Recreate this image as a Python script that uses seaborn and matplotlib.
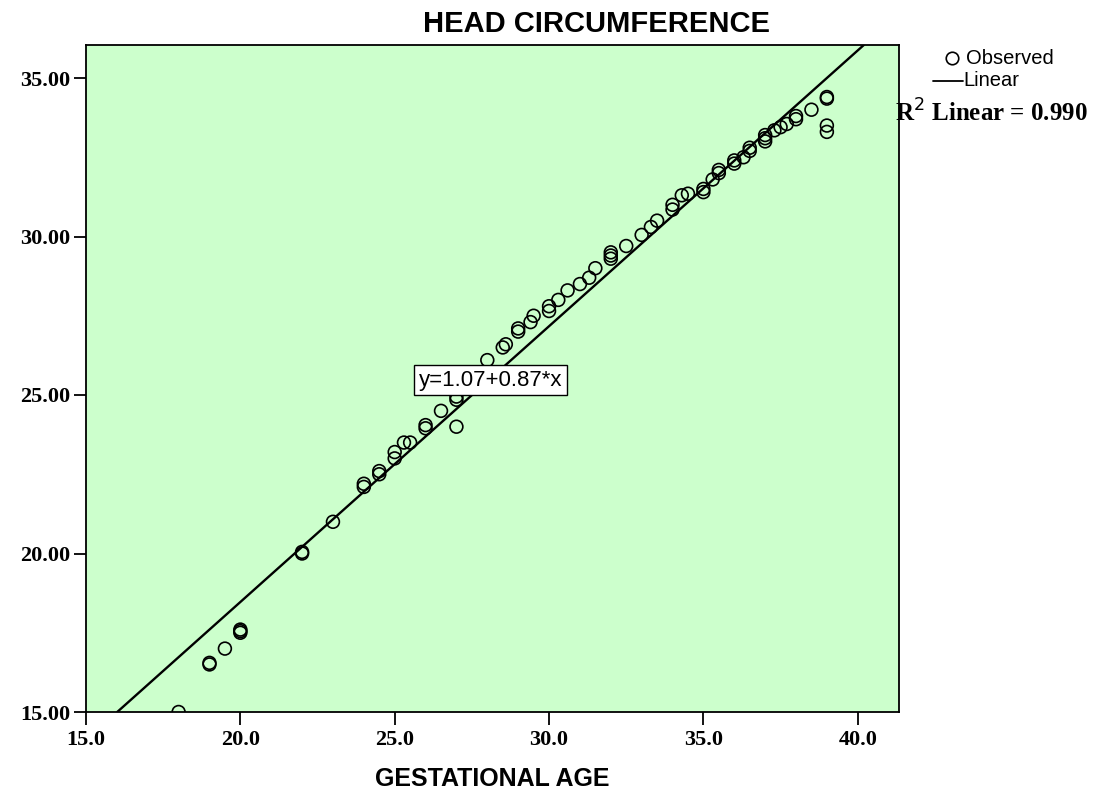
import matplotlib
matplotlib.use("Agg")
import matplotlib.pyplot as plt
import seaborn as sns
import pandas as pd

# ---- data ----
gest_age = [18, 19, 19, 19.5, 20, 20, 20, 22, 22, 23,
            24, 24, 24.5, 24.5, 25, 25, 25.3, 25.5, 26, 26,
            26.5, 27, 27, 27, 28, 28.5, 28.6, 29, 29, 29.4,
            29.5, 30, 30, 30.3, 30.6, 31, 31.3, 31.5, 32, 32,
            32, 32.5, 33, 33.3, 33.5, 34, 34, 34.3, 34.5, 35,
            35, 35.3, 35.5, 35.5, 36, 36, 36.3, 36.5, 36.5, 37,
            37, 37, 37.3, 37.5, 37.7, 38, 38, 38.5, 39, 39,
            39, 39]
head_circ = [15.0, 16.5, 16.55, 17.0, 17.5, 17.6, 17.55, 20.0, 20.05, 21.0,
             22.1, 22.2, 22.5, 22.6, 23.0, 23.2, 23.5, 23.5, 23.95, 24.05,
             24.5, 24.0, 24.85, 24.95, 26.1, 26.5, 26.6, 27.0, 27.1, 27.3,
             27.5, 27.65, 27.8, 28.0, 28.3, 28.5, 28.7, 29.0, 29.3, 29.4,
             29.5, 29.7, 30.05, 30.3, 30.5, 30.85, 31.0, 31.3, 31.35, 31.4,
             31.5, 31.8, 32.0, 32.1, 32.3, 32.4, 32.5, 32.7, 32.8, 33.0,
             33.1, 33.2, 33.35, 33.45, 33.55, 33.7, 33.8, 34.0, 34.35, 34.4,
             33.5, 33.3]
fit_intercept = 1.07
fit_slope = 0.87
r_squared = 0.990
x_ticks = [15.0, 20.0, 25.0, 30.0, 35.0, 40.0]
y_ticks = [15.0, 20.0, 25.0, 30.0, 35.0]

df = pd.DataFrame({"GESTATIONAL AGE": gest_age, "HEAD CIRCUMFERENCE": head_circ})

sns.set_style("white")
plt.rcParams["font.family"] = ["Liberation Sans", "DejaVu Sans"]
plt.rcParams["text.color"] = "black"
plt.rcParams["axes.labelcolor"] = "black"
plt.rcParams["xtick.color"] = "black"
plt.rcParams["ytick.color"] = "black"

fig = plt.figure(figsize=(10.93, 7.89), dpi=100)
ax = fig.add_axes([86 / 1093, 77 / 789, (899 - 86) / 1093, (712 - 45) / 789])
ax.set_facecolor("#CCFFCC")

sns.scatterplot(data=df, x="GESTATIONAL AGE", y="HEAD CIRCUMFERENCE", ax=ax,
                marker="o", s=85, facecolors="none", edgecolor="black",
                linewidth=1.2, legend=False)
ax.axline((0, fit_intercept), slope=fit_slope, color="black", lw=1.7)

ax.set_xlim(15.0, 15.0 + (899 - 86) / 30.87)
ax.set_ylim(15.0, 35.0 + (78 - 45) / 31.7)
ax.set_xticks(x_ticks)
ax.set_yticks(y_ticks)
ax.set_xticklabels([f"{v:.1f}" for v in x_ticks])
ax.set_yticklabels([f"{v:.2f}" for v in y_ticks])
for lab in ax.get_xticklabels() + ax.get_yticklabels():
    lab.set_fontfamily("Liberation Serif")
    lab.set_fontweight("bold")
    lab.set_fontsize(16)
    lab.set_color("black")
ax.tick_params(axis="both", direction="out", length=9, width=1.3, color="black",
               left=True, bottom=True, pad=2)
ax.tick_params(axis="x", pad=4)
for sp in ax.spines.values():
    sp.set_color("black")
    sp.set_linewidth(1.3)

ax.set_xlabel("GESTATIONAL AGE", fontsize=18, fontweight="bold", labelpad=12, color="black")
ax.set_ylabel("")

fig.text(597 / 1093, 1 - 24 / 789, "HEAD CIRCUMFERENCE", ha="center", va="center",
         fontsize=21, fontweight="bold", color="black")

# equation box
ax.text(28.1, 25.47, f"y={fit_intercept:.2f}+{fit_slope:.2f}*x", ha="center", va="center",
        fontsize=16, color="black",
        bbox=dict(boxstyle="square,pad=0.2", facecolor="white",
                  edgecolor="black", linewidth=1.0))

# legend (outside, right)
fig.lines.append(plt.Line2D([952 / 1093], [1 - 58 / 789], transform=fig.transFigure,
                            marker="o", markersize=9, markerfacecolor="none",
                            markeredgecolor="black", markeredgewidth=1.2, linestyle="none"))
fig.text(966 / 1093, 1 - 59 / 789, "Observed", ha="left", va="center", fontsize=14.5,
         color="black")
fig.lines.append(plt.Line2D([933 / 1093, 963 / 1093], [1 - 81 / 789, 1 - 81 / 789],
                            transform=fig.transFigure, color="black", lw=1.3))
fig.text(963 / 1093, 1 - 81 / 789, "Linear", ha="left", va="center", fontsize=14.5,
         color="black")
fig.text(895 / 1093, 1 - 113 / 789, f"R$^2$ Linear = {r_squared:.3f}", ha="left", va="center",
         fontsize=18, fontweight="bold", fontfamily="Liberation Serif", color="black")

fig.savefig("out.png", dpi=100, facecolor="white")
